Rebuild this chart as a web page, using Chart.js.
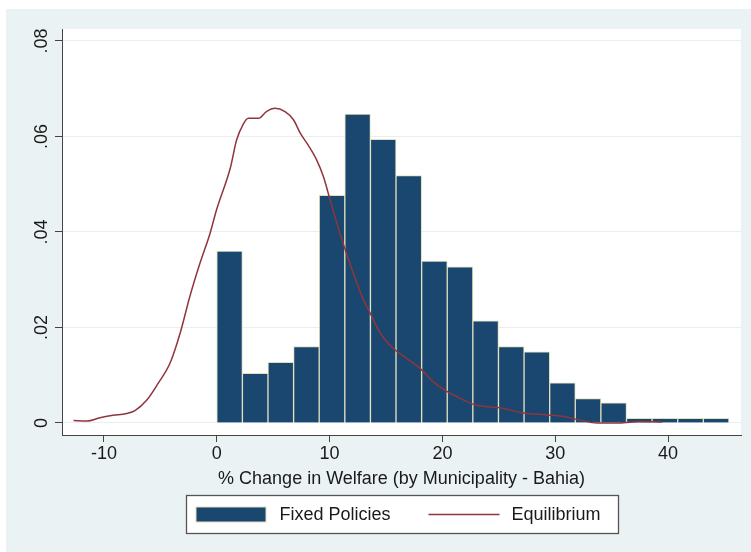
<!DOCTYPE html>
<html>
<head>
<meta charset="utf-8">
<title>% Change in Welfare (by Municipality - Bahia)</title>
<script src="https://cdn.jsdelivr.net/npm/chart.js@4.4.1/dist/chart.umd.min.js"></script>
<style>
  html, body { margin: 0; padding: 0; background: #ffffff; }
  canvas { display: block; }
</style>
</head>
<body>
<canvas id="chart" width="751" height="552"></canvas>
<script>
// Histogram bins (percent change), density per bin
const BIN_START = 0;
const BIN_WIDTH = 2.27;
const fixedPoliciesDensity = [
  0.0360, 0.0104, 0.0127, 0.0160, 0.0477, 0.0647, 0.0594, 0.0518, 0.0339, 0.0327,
  0.0214, 0.0160, 0.0149, 0.0084, 0.0051, 0.0042, 0.0010, 0.0010, 0.0010, 0.0010
];

// Kernel density of the equilibrium outcome
const equilibriumX = [
  -12.7, -11.5, -10.35, -9.2, -8.0, -7.25, -6.2, -5.2, -4.15, -3.25,
  -2.4, -1.5, -0.6, 0.0, 1.2, 1.75, 2.35, 2.8, 3.7,
  4.4, 5.15, 6.05, 6.8, 7.4, 8.1, 8.85, 9.45, 10.05, 10.65,
  11.2, 12.1, 13.0, 13.6, 14.5, 15.65, 16.85, 18.0, 19.2, 20.4,
  21.55, 22.75, 24.0, 25.1, 27.2, 29.25, 30.9, 32.2, 33.7, 35.7,
  37.5, 39.5
];
const equilibriumY = [
  0.0005, 0.0004, 0.0011, 0.0016, 0.0020, 0.0026, 0.0048, 0.0083, 0.0125, 0.0188,
  0.0264, 0.0334, 0.0397, 0.0448, 0.0534, 0.0592, 0.0626, 0.0638, 0.0638,
  0.0652, 0.0659, 0.0652, 0.0635, 0.0607, 0.0582, 0.0551, 0.0516, 0.0467, 0.0418,
  0.0376, 0.0314, 0.0258, 0.0230, 0.0188, 0.0156, 0.0135, 0.0115, 0.0086, 0.0066,
  0.0052, 0.0039, 0.0034, 0.0032, 0.0021, 0.0017, 0.0013, 0.0006, 0.0000, 0.0000,
  0.0003, 0.0002
];

// Axis ticks
const X_TICKS = [-10, 0, 10, 20, 30, 40];
const Y_TICKS = [0, 0.02, 0.04, 0.06, 0.08];
const Y_TICK_LABELS = ['0', '.02', '.04', '.06', '.08'];

const X_TITLE = '% Change in Welfare (by Municipality - Bahia)';
const BAR_NAME = 'Fixed Policies';
const LINE_NAME = 'Equilibrium';

const NAVY = '#1a476f';
const BAR_EDGE = '#e2dfbd';
const MAROON = '#90353b';
const PANEL = '#eaf2f3';
const AXIS = '#444444';
const TEXT = '#1a1a1a';
const FONT = "'Liberation Sans', Arial, Helvetica, sans-serif";

Chart.defaults.font.family = FONT;
Chart.defaults.color = TEXT;

const histogramPoints = fixedPoliciesDensity.map((h, i) => ({
  x: BIN_START + BIN_WIDTH * (i + 0.5),
  y: h
}));
const densityPoints = equilibriumX.map((x, i) => ({ x: x, y: equilibriumY[i] }));

// Graph region and white plot region
const backgroundPlugin = {
  id: 'regions',
  beforeDraw(chart) {
    const ctx = chart.ctx;
    const a = chart.chartArea;
    ctx.save();
    ctx.fillStyle = '#ffffff';
    ctx.fillRect(0, 0, chart.width, chart.height);
    ctx.fillStyle = PANEL;
    ctx.fillRect(6, 9, chart.width - 6, chart.height - 9);
    ctx.fillStyle = '#ffffff';
    ctx.fillRect(a.left, a.top, a.right - a.left, a.bottom - a.top);
    ctx.restore();
  }
};

// Vertical (rotated) value labels on the y axis
const yLabelPlugin = {
  id: 'yLabels',
  afterDraw(chart) {
    const ctx = chart.ctx;
    const ys = chart.scales.y;
    ctx.save();
    ctx.font = '18px ' + FONT;
    ctx.fillStyle = TEXT;
    ctx.textAlign = 'center';
    ctx.textBaseline = 'alphabetic';
    Y_TICKS.forEach((v, i) => {
      const py = ys.getPixelForValue(v);
      ctx.save();
      ctx.translate(ys.right - 15.5, py);
      ctx.rotate(-Math.PI / 2);
      ctx.fillText(Y_TICK_LABELS[i], 0, 0);
      ctx.restore();
    });
    ctx.restore();
  }
};

// Boxed legend below the axis title
const legendBoxPlugin = {
  id: 'legendBox',
  afterDraw(chart) {
    const ctx = chart.ctx;
    const ds = chart.data.datasets;
    const barSet = ds.find(d => d.type === 'bar');
    const lineSet = ds.find(d => d.type === 'line');
    const a = chart.chartArea;
    const cx = (a.left + a.right) / 2;
    const boxW = 432, boxH = 38;
    const left = Math.round(cx - boxW / 2) + 0.5;
    const top = chart.scales.x.bottom + 0.5;
    ctx.save();
    ctx.fillStyle = '#ffffff';
    ctx.fillRect(left, top, boxW, boxH);
    ctx.strokeStyle = '#555555';
    ctx.lineWidth = 1.3;
    ctx.strokeRect(left, top, boxW, boxH);

    const midY = top + boxH / 2;
    // bar swatch
    ctx.fillStyle = barSet.borderColor;
    ctx.fillRect(left + 9, midY - 8, 71, 16);
    ctx.fillStyle = barSet.backgroundColor;
    ctx.fillRect(left + 10, midY - 7, 69, 14);
    // line swatch
    ctx.strokeStyle = lineSet.borderColor;
    ctx.lineWidth = 1.5;
    ctx.beginPath();
    ctx.moveTo(left + 242, midY);
    ctx.lineTo(left + 313, midY);
    ctx.stroke();

    ctx.font = '18px ' + FONT;
    ctx.fillStyle = TEXT;
    ctx.textAlign = 'left';
    ctx.textBaseline = 'middle';
    ctx.fillText(barSet.label, left + 93, midY + 1);
    ctx.fillText(lineSet.label, left + 325, midY + 1);
    ctx.restore();
  }
};

new Chart(document.getElementById('chart'), {
  data: {
    datasets: [
      {
        type: 'line',
        label: LINE_NAME,
        data: densityPoints,
        borderColor: MAROON,
        borderWidth: 1.5,
        pointRadius: 0,
        cubicInterpolationMode: 'monotone',
        fill: false,
        order: 0
      },
      {
        type: 'bar',
        label: BAR_NAME,
        data: histogramPoints,
        backgroundColor: NAVY,
        borderColor: BAR_EDGE,
        borderWidth: 1,
        borderSkipped: 'start',
        barPercentage: 1,
        categoryPercentage: 1,
        order: 1
      }
    ]
  },
  options: {
    responsive: false,
    animation: false,
    devicePixelRatio: 1,
    layout: { padding: { left: 0, top: 29, right: 10, bottom: 57 } },
    plugins: {
      legend: { display: false },
      tooltip: { enabled: false }
    },
    scales: {
      x: {
        type: 'linear',
        position: 'bottom',
        offset: false,
        min: -13.72,
        max: 46.47,
        afterBuildTicks(scale) { scale.ticks = X_TICKS.map(v => ({ value: v })); },
        afterFit(scale) { scale.height = 60; },
        ticks: {
          font: { size: 18 },
          color: TEXT,
          padding: 1,
          maxRotation: 0,
          autoSkip: false,
          callback: (v) => String(v)
        },
        grid: {
          offset: false,
          drawOnChartArea: false,
          drawTicks: true,
          tickLength: 7,
          tickColor: AXIS,
          lineWidth: 1
        },
        border: { display: true, color: AXIS, width: 1 },
        title: {
          display: true,
          text: X_TITLE,
          font: { size: 18 },
          color: TEXT,
          padding: { top: 2, bottom: 5 }
        }
      },
      y: {
        type: 'linear',
        position: 'left',
        min: -0.002513,
        max: 0.08251,
        afterBuildTicks(scale) { scale.ticks = Y_TICKS.map(v => ({ value: v })); },
        afterFit(scale) { scale.width = 62; },
        ticks: { display: false },
        grid: {
          drawOnChartArea: true,
          color: '#eaeeef',
          drawTicks: true,
          tickLength: 7,
          tickColor: AXIS,
          lineWidth: 1
        },
        border: { display: true, color: AXIS, width: 1 }
      }
    }
  },
  plugins: [backgroundPlugin, yLabelPlugin, legendBoxPlugin]
});
</script>
</body>
</html>
